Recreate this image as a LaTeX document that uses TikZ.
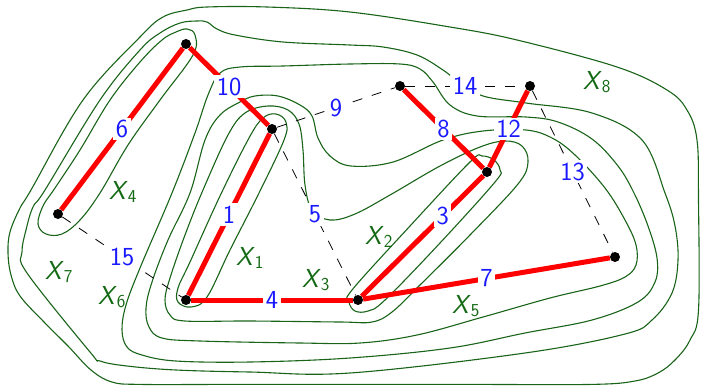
\documentclass[tikz,border=0pt]{standalone}
\usepackage{fontspec}
\usetikzlibrary{backgrounds}
\definecolor{cgreen}{RGB}{25,100,25}
\definecolor{lgreen}{RGB}{20,105,20}
\definecolor{nblue}{RGB}{25,25,255}
\begin{document}
\begin{tikzpicture}[x=1pt,y=-1pt,
  vtx/.style={circle,fill=black,inner sep=0pt,minimum size=10pt},
  contour/.style={draw=cgreen,line width=1.1pt},
  treeedge/.style={draw=red,line width=5pt},
  nontree/.style={draw=black,line width=0.8pt,dash pattern=on 10pt off 10pt},
  num/.style={fill=white,inner sep=2.5pt,text=nblue,font=\sffamily\fontsize{26}{26}\selectfont},
  setlab/.style={text=lgreen,font=\sffamily\fontsize{26}{26}\selectfont,inner sep=0pt}]
\useasboundingbox (0,0) rectangle (701,386);
% vertices
\node[vtx] (A) at (186,44) {};
\node[vtx] (B) at (272,129) {};
\node[vtx] (C) at (400,86) {};
\node[vtx] (D) at (530,86) {};
\node[vtx] (E) at (487,172) {};
\node[vtx] (F) at (58,214) {};
\node[vtx] (G) at (186,300) {};
\node[vtx] (H) at (358,300) {};
\node[vtx] (I) at (615,257) {};
\begin{pgfonlayer}{background}
% X1
\draw[contour] plot[smooth cycle,tension=0.6] coordinates {(276,114) (286,122) (284,140) (259,193) (230,250) (207,297) (191,307) (178,302) (178,288) (190,262) (220,196) (249,138) (263,118)};
% X2
\draw[contour] plot[smooth cycle,tension=0.6] coordinates {(494,160) (500,170) (495,182) (440,243) (385,300) (368,311) (355,311) (349,302) (352,290) (410,226) (470,162) (482,156)};
% X3
\draw[contour] plot[smooth cycle,tension=0.6] coordinates {(268,106) (288,110) (299,124) (303,150) (305,185) (312,210) (330,220) (355,214) (390,195) (440,166) (480,147) (505,141) (522,146) (528,162) (518,184) (470,235) (420,285) (392,312) (372,322) (340,322) (250,321) (185,321) (170,315) (165,300) (170,278) (185,235) (203,190) (228,135) (245,113)};
% X4
\draw[contour] plot[smooth cycle,tension=0.6] coordinates {(176,32) (187,29) (195,35) (193,55) (160,100) (128,145) (100,193) (80,220) (62,234) (46,234) (38,224) (43,206) (55,188) (80,150) (110,100) (140,62) (162,40)};
% X5
\draw[contour] plot[smooth cycle,tension=0.6] coordinates {(240,102) (255,96) (278,96) (300,105) (312,116) (318,138) (330,156) (351,166) (393,162) (443,140) (483,131) (526,130) (552,138) (575,155) (605,188) (625,220) (636,245) (636,265) (625,277) (600,286) (550,298) (483,317) (417,335) (360,343) (300,343) (200,341) (162,338) (149,327) (146,308) (152,282) (168,240) (190,193) (205,140) (220,115)};
% X6
\draw[contour] plot[smooth cycle,tension=0.6] coordinates {(220,73) (240,67) (283,66) (350,64) (400,64) (420,69) (433,82) (450,105) (477,116) (526,117) (558,122) (592,139) (618,166) (634,193) (648,226) (657,258) (655,282) (638,302) (592,320) (525,333) (450,348) (350,358) (250,362) (176,361) (142,355) (127,347) (122,330) (126,305) (140,268) (172,193) (195,133) (208,95)};
% X7
\draw[contour] plot[smooth cycle,tension=0.6] coordinates {(22,252) (26,230) (33,207) (45,190) (100,100) (140,50) (160,33) (180,23) (197,21) (207,22) (217,29) (235,35) (283,42) (350,45) (383,47) (417,55) (443,70) (460,83) (483,96) (526,103) (592,113) (642,140) (665,193) (675,226) (678,260) (672,293) (652,320) (625,334) (525,353) (350,373) (250,372) (176,370) (127,366) (100,361) (90,352) (27,273)};
% X8
\draw[contour] plot[smooth cycle,tension=0.6] coordinates {(8,253) (10,232) (20,208) (31,190) (83,100) (140,37) (163,17) (187,10) (207,7) (267,7) (350,12) (450,27) (517,40) (617,67) (667,90) (687,110) (697,140) (698.5,200) (698.5,310) (690,340) (675,360) (658,373) (635,381) (592,384.4) (470,384.4) (350,384.4) (230,384.4) (140,384.4) (112,382) (91,370) (68,346) (44,322) (20,296) (11,275)};
% non-tree edges
\draw[nontree] (B) -- (C) node[num,midway] {9};
\draw[nontree] (C) -- (D) node[num,midway] {14};
\draw[nontree] (D) -- (I) node[num,midway] {13};
\draw[nontree] (B) -- (H) node[num,midway] {5};
\draw[nontree] (F) -- (G) node[num,midway] {15};
% tree edges
\draw[treeedge] (F) -- (A) node[num,midway] {6};
\draw[treeedge] (A) -- (B) node[num,midway] {10};
\draw[treeedge] (B) -- (G) node[num,midway] {1};
\draw[treeedge] (G) -- (H) node[num,midway] {4};
\draw[treeedge] (H) -- (E) node[num,pos=0.667] {3};
\draw[treeedge] (C) -- (E) node[num,midway] {8};
\draw[treeedge] (E) -- (D) node[num,midway] {12};
\draw[treeedge] (H) -- (I) node[num,midway] {7};
\end{pgfonlayer}
% set labels
\node[setlab] (L1) at (250,258) {\textit{X}\textsubscript{1}};
\node[setlab] (L2) at (379,237) {\textit{X}\textsubscript{2}};
\node[setlab] (L3) at (316,280) {\textit{X}\textsubscript{3}};
\node[setlab] (L4) at (123,192) {\textit{X}\textsubscript{4}};
\node[setlab] (L5) at (466,306) {\textit{X}\textsubscript{5}};
\node[setlab] (L6) at (112,297) {\textit{X}\textsubscript{6}};
\node[setlab] (L7) at (59,272) {\textit{X}\textsubscript{7}};
\node[setlab] (L8) at (597,82) {\textit{X}\textsubscript{8}};
\end{tikzpicture}
\end{document}
